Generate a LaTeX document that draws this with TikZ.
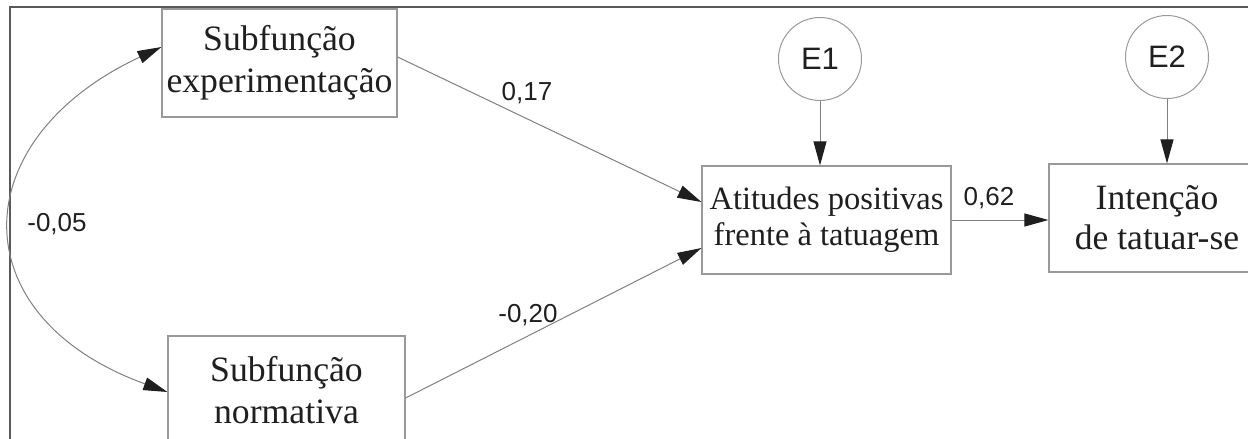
\documentclass[tikz,border=0pt]{standalone}
\usepackage{fontspec}
\setmainfont{Liberation Serif}
\newfontfamily\numfont{Liberation Sans}
\usepackage{tikz}
\usetikzlibrary{arrows.meta, positioning}
\definecolor{linegray}{gray}{0.5}
\definecolor{boxgray}{gray}{0.6}
\definecolor{framegray}{gray}{0.35}
\definecolor{inkblack}{gray}{0.12}

\begin{document}
\begin{tikzpicture}[x=0.5pt, y=-0.5pt, >={Triangle[length=12pt, width=6.5pt, color=inkblack]},
    box/.style={rectangle, draw=boxgray, line width=0.6pt, inner sep=0pt, minimum height=54pt, align=center, text=inkblack},
    err/.style={circle, draw=boxgray, line width=0.5pt, inner sep=0pt, minimum size=41.5pt, text=inkblack, font=\numfont\fontsize{15.5}{18}\selectfont},
    link/.style={draw=linegray, line width=0.5pt, ->},
    coef/.style={text=inkblack, inner sep=0pt, font=\numfont\fontsize{13}{15}\selectfont}]
    \useasboundingbox (0,0) rectangle (1248,439);
    \draw[framegray, line width=1.2pt] (10,445) -- (10,7) -- (1255,7);

    \node[box, minimum width=117.5pt, font=\fontsize{17.85}{21}\selectfont] (exp) at (279.5,63) {Subfunção\\experimentação};
    \node[box, minimum width=118.5pt, font=\fontsize{17.85}{21}\selectfont] (norm) at (286.5,390) {Subfunção\\normativa};
    \node[box, minimum width=124.5pt, font=\fontsize{16.25}{18}\selectfont] (att) at (826.5,220) {Atitudes positivas\\frente à tatuagem};
    \node[box, minimum width=108pt, font=\fontsize{17.8}{20}\selectfont] (int) at (1157,218) {Intenção\\de tatuar-se};
    \node[err] (e1) at (820,59) {E1};
    \node[err] (e2) at (1167,57) {E2};

    \node[coef] (c17) at (527,93) {0,17};
    \node[coef] (c20) at (528,315) {-0,20};
    \node[coef] (c62) at (989,198) {0,62};
    \node[coef] (c05) at (57,224) {-0,05};

    \draw[link] (e1) -- (e1 |- att.north);
    \draw[link] (e2) -- (e2 |- int.north);
    \draw[link] (att.east) -- (att.east -| int.west);
    \draw[link] ([yshift=3pt]exp.east) -- ([yshift=9pt]att.west);
    \draw[link] ([yshift=-4pt]norm.east) -- ([yshift=-14pt]att.west);
    \draw[link, <->] ([yshift=8pt]exp.west) .. controls +(-199,93) and +(-207,-75) .. ([yshift=-1pt]norm.west);
\end{tikzpicture}
\end{document}
